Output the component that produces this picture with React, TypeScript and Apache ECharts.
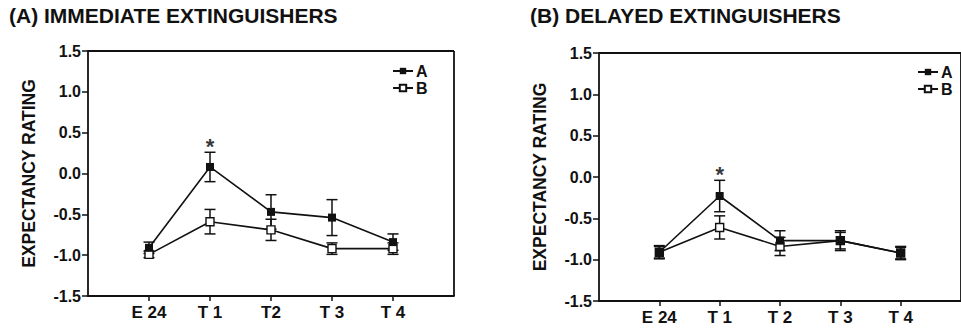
import React, { useEffect, useRef } from "react";
import * as echarts from "echarts";

const FONT = "'Liberation Sans', Arial, Helvetica, sans-serif";
const INK = "#111";

const titleA = "(A) IMMEDIATE EXTINGUISHERS";
const titleB = "(B) DELAYED EXTINGUISHERS";
const yName = "EXPECTANCY RATING";
const labelsA = ["E 24", "T 1", "T2", "T 3", "T 4"];
const labelsB = ["E 24", "T 1", "T 2", "T 3", "T 4"];
const positions = [1, 2, 3, 4, 5];

const immA = [-0.91, 0.08, -0.47, -0.54, -0.84];
const immAErr = [0.07, 0.18, 0.21, 0.22, 0.1];
const immB = [-0.99, -0.59, -0.69, -0.92, -0.92];
const immBErr = [0.04, 0.15, 0.13, 0.07, 0.07];

const delA = [-0.91, -0.23, -0.77, -0.77, -0.92];
const delAErr = [0.08, 0.19, 0.12, 0.12, 0.08];
const delB = [-0.91, -0.61, -0.84, -0.77, -0.92];
const delBErr = [0.07, 0.14, 0.11, 0.1, 0.07];

const starA = [[2, 0.33]];
const starB = [[2, 0.03]];

const frameCorners = [[0, -1.5], [0, 1.5], [6, 1.5], [6, -1.5]];

function pairs(vals: number[]) {
  return vals.map((v, i) => [positions[i], v]);
}
function triples(vals: number[], errs: number[]) {
  return vals.map((v, i) => [positions[i], v, errs[i]]);
}

const errorRender = (params: any, api: any) => {
  const x = api.value(0);
  const y = api.value(1);
  const e = api.value(2);
  const top = api.coord([x, y + e]);
  const bot = api.coord([x, y - e]);
  const hw = 5.5;
  const st = { stroke: INK, lineWidth: 1.5 };
  return {
    type: "group",
    children: [
      { type: "line", shape: { x1: top[0], y1: top[1], x2: bot[0], y2: bot[1] }, style: st },
      { type: "line", shape: { x1: top[0] - hw, y1: top[1], x2: top[0] + hw, y2: top[1] }, style: st },
      { type: "line", shape: { x1: bot[0] - hw, y1: bot[1], x2: bot[0] + hw, y2: bot[1] }, style: st },
    ],
  };
};

const frameRender = (params: any, api: any) => {
  if (params.dataIndex !== 0) return null;
  const p = frameCorners.map((c) => api.coord(c));
  const st = { stroke: INK, lineWidth: 1.8 };
  return {
    type: "group",
    children: [
      { type: "line", shape: { x1: p[1][0], y1: p[1][1], x2: p[2][0], y2: p[2][1] }, style: st },
      { type: "line", shape: { x1: p[2][0], y1: p[2][1], x2: p[3][0], y2: p[3][1] }, style: st },
    ],
  };
};

function xAxis(gridIndex: number, labels: string[]) {
  return {
    gridIndex,
    type: "value",
    min: 0,
    max: 6,
    interval: 1,
    splitLine: { show: false },
    axisLine: { show: true, onZero: false, lineStyle: { color: INK, width: 1.8 } },
    axisTick: { show: true, length: 5, lineStyle: { color: INK, width: 1.5 }, customValues: positions },
    axisLabel: {
      customValues: positions,
      formatter: (v: number) => labels[v - 1] ?? "",
      color: INK,
      fontSize: 17,
      fontWeight: "bold",
      fontFamily: FONT,
      margin: 8,
    },
  };
}

function yAxis(gridIndex: number) {
  return {
    gridIndex,
    type: "value",
    min: -1.5,
    max: 1.5,
    interval: 0.5,
    name: yName,
    nameLocation: "middle",
    nameRotate: 90,
    nameGap: 50,
    nameTextStyle: { color: INK, fontSize: 17.5, fontWeight: "bold", fontFamily: FONT },
    splitLine: { show: false },
    axisLine: { show: true, onZero: false, lineStyle: { color: INK, width: 1.8 } },
    axisTick: { show: true, length: 6, lineStyle: { color: INK, width: 1.5 } },
    axisLabel: {
      formatter: (v: number) => v.toFixed(1),
      color: INK,
      fontSize: 16,
      fontWeight: "bold",
      fontFamily: FONT,
      margin: 7,
    },
  };
}

function panelSeries(idx: number, a: number[], aErr: number[], b: number[], bErr: number[], star: number[][]) {
  return [
    {
      name: "frame" + idx,
      type: "custom",
      xAxisIndex: idx,
      yAxisIndex: idx,
      z: 6,
      clip: false,
      silent: true,
      renderItem: frameRender,
      encode: { x: 0, y: 1 },
      data: frameCorners,
    },
    {
      name: "errA" + idx,
      type: "custom",
      xAxisIndex: idx,
      yAxisIndex: idx,
      z: 1,
      renderItem: errorRender,
      encode: { x: 0, y: 1 },
      data: triples(a, aErr),
    },
    {
      name: "errB" + idx,
      type: "custom",
      xAxisIndex: idx,
      yAxisIndex: idx,
      z: 1,
      renderItem: errorRender,
      encode: { x: 0, y: 1 },
      data: triples(b, bErr),
    },
    {
      name: "B",
      type: "line",
      xAxisIndex: idx,
      yAxisIndex: idx,
      z: 3,
      symbol: "rect",
      symbolSize: 8,
      lineStyle: { color: INK, width: 1.6 },
      itemStyle: { color: "#fff", borderColor: INK, borderWidth: 1.4 },
      data: pairs(b),
    },
    {
      name: "A",
      type: "line",
      xAxisIndex: idx,
      yAxisIndex: idx,
      z: 4,
      symbol: "rect",
      symbolSize: 8,
      lineStyle: { color: INK, width: 1.6 },
      itemStyle: { color: INK, borderColor: INK, borderWidth: 0 },
      data: pairs(a),
    },
    {
      name: "star" + idx,
      type: "scatter",
      xAxisIndex: idx,
      yAxisIndex: idx,
      z: 5,
      symbolSize: 1,
      itemStyle: { color: "rgba(0,0,0,0)" },
      label: {
        show: true,
        position: "inside",
        formatter: "*",
        color: "#000",
        fontSize: 22,
        fontWeight: "bold",
        fontFamily: FONT,
      },
      data: star,
    },
  ];
}

function legend(left: number, top: number) {
  return {
    left,
    top,
    orient: "vertical",
    data: ["A", "B"],
    itemWidth: 20,
    itemHeight: 8,
    itemGap: 1,
    padding: 0,
    selectedMode: false,
    textStyle: { color: INK, fontSize: 16, fontWeight: "bold", fontFamily: FONT, padding: [0, 0, 0, -2] },
  };
}

export default function App() {
  const ref = useRef<HTMLDivElement>(null);
  useEffect(() => {
    document.body.style.margin = "0";
    if (!ref.current) return;
    const chart = echarts.init(ref.current, null, { renderer: "svg" });
    chart.setOption({
      animation: false,
      backgroundColor: "#fff",
      title: [
        {
          text: titleA,
          left: 9,
          top: 5,
          padding: 0,
          textStyle: { color: INK, fontSize: 21, fontWeight: "bold", fontFamily: FONT },
        },
        {
          text: titleB,
          left: 530,
          top: 5,
          padding: 0,
          textStyle: { color: INK, fontSize: 21, fontWeight: "bold", fontFamily: FONT },
        },
      ],
      legend: [legend(392, 63), legend(917, 64)],
      grid: [
        { left: 88, top: 51, width: 366, height: 245 },
        { left: 599, top: 53, width: 369, height: 248 },
      ],
      xAxis: [xAxis(0, labelsA), xAxis(1, labelsB)],
      yAxis: [yAxis(0), yAxis(1)],
      series: [
        ...panelSeries(0, immA, immAErr, immB, immBErr, starA),
        ...panelSeries(1, delA, delAErr, delB, delBErr, starB),
      ],
    });
    return () => chart.dispose();
  }, []);
  return <div ref={ref} style={{ width: 961, height: 333 }} />;
}
